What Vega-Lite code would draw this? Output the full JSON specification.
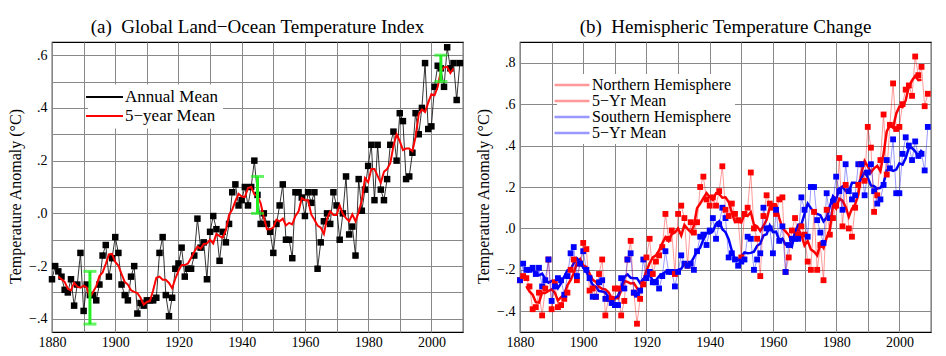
{
  "$schema": "https://vega.github.io/schema/vega-lite/v6.json",
  "autosize": {"type": "pad"},
  "padding": {"left": 7, "top": 17, "right": 5, "bottom": 5},
  "background": "white",
  "config": {
    "font": "Liberation Serif",
    "view": {"stroke": "#000", "strokeWidth": 1.2},
    "axis": {"labelFont": "Liberation Serif", "titleFont": "Liberation Serif", "labelColor": "#000", "titleColor": "#000", "grid": true, "gridColor": "#888", "gridWidth": 1, "gridOpacity": 1, "ticks": false, "domain": false, "labelFontSize": 14, "titleFontSize": 16, "titleFontWeight": "normal", "labelOverlap": false},
    "title": {"font": "Liberation Serif", "fontSize": 19, "fontWeight": "normal", "color": "#000", "offset": 5},
    "legend": {"labelFont": "Liberation Serif", "labelColor": "#000", "labelLimit": 300}
  },
  "datasets": {
    "ann": [
      {"y":1880,"g":-0.25,"n":-0.25,"s":-0.25},{"y":1881,"g":-0.2,"n":-0.23,"s":-0.17},{"y":1882,"g":-0.22,"n":-0.24,"s":-0.2},{"y":1883,"g":-0.24,"n":-0.28,"s":-0.2},{"y":1884,"g":-0.29,"n":-0.39,"s":-0.19},{"y":1885,"g":-0.3,"n":-0.38,"s":-0.22},{"y":1886,"g":-0.25,"n":-0.31,"s":-0.19},{"y":1887,"g":-0.35,"n":-0.42,"s":-0.28},{"y":1888,"g":-0.27,"n":-0.29,"s":-0.25},{"y":1889,"g":-0.15,"n":-0.15,"s":-0.15},
      {"y":1890,"g":-0.37,"n":-0.39,"s":-0.35},{"y":1891,"g":-0.27,"n":-0.26,"s":-0.28},{"y":1892,"g":-0.31,"n":-0.38,"s":-0.24},{"y":1893,"g":-0.31,"n":-0.37,"s":-0.25},{"y":1894,"g":-0.33,"n":-0.34,"s":-0.32},{"y":1895,"g":-0.27,"n":-0.31,"s":-0.23},{"y":1896,"g":-0.16,"n":-0.2,"s":-0.12},{"y":1897,"g":-0.12,"n":-0.15,"s":-0.09},{"y":1898,"g":-0.24,"n":-0.25,"s":-0.23},{"y":1899,"g":-0.17,"n":-0.17,"s":-0.17},
      {"y":1900,"g":-0.09,"n":-0.07,"s":-0.11},{"y":1901,"g":-0.15,"n":-0.1,"s":-0.2},{"y":1902,"g":-0.27,"n":-0.3,"s":-0.24},{"y":1903,"g":-0.31,"n":-0.29,"s":-0.33},{"y":1904,"g":-0.33,"n":-0.33,"s":-0.33},{"y":1905,"g":-0.24,"n":-0.22,"s":-0.26},{"y":1906,"g":-0.2,"n":-0.15,"s":-0.25},{"y":1907,"g":-0.38,"n":-0.42,"s":-0.34},{"y":1908,"g":-0.34,"n":-0.34,"s":-0.34},{"y":1909,"g":-0.35,"n":-0.34,"s":-0.36},
      {"y":1910,"g":-0.33,"n":-0.29,"s":-0.37},{"y":1911,"g":-0.33,"n":-0.29,"s":-0.37},{"y":1912,"g":-0.33,"n":-0.42,"s":-0.24},{"y":1913,"g":-0.32,"n":-0.35,"s":-0.29},{"y":1914,"g":-0.15,"n":-0.15,"s":-0.15},{"y":1915,"g":-0.09,"n":-0.06,"s":-0.12},{"y":1916,"g":-0.31,"n":-0.31,"s":-0.31},{"y":1917,"g":-0.39,"n":-0.46,"s":-0.32},{"y":1918,"g":-0.32,"n":-0.34,"s":-0.3},{"y":1919,"g":-0.21,"n":-0.27,"s":-0.15},
      {"y":1920,"g":-0.19,"n":-0.14,"s":-0.24},{"y":1921,"g":-0.13,"n":-0.05,"s":-0.21},{"y":1922,"g":-0.24,"n":-0.22,"s":-0.26},{"y":1923,"g":-0.21,"n":-0.16,"s":-0.26},{"y":1924,"g":-0.21,"n":-0.13,"s":-0.29},{"y":1925,"g":-0.16,"n":-0.09,"s":-0.23},{"y":1926,"g":-0.02,"n":0.07,"s":-0.11},{"y":1927,"g":-0.13,"n":-0.05,"s":-0.21},{"y":1928,"g":-0.11,"n":-0.01,"s":-0.21},{"y":1929,"g":-0.25,"n":-0.22,"s":-0.28},
      {"y":1930,"g":-0.07,"n":0.07,"s":-0.21},{"y":1931,"g":-0.01,"n":0.11,"s":-0.13},{"y":1932,"g":-0.06,"n":0.05,"s":-0.17},{"y":1933,"g":-0.18,"n":-0.18,"s":-0.18},{"y":1934,"g":-0.07,"n":0.03,"s":-0.17},{"y":1935,"g":-0.11,"n":-0.02,"s":-0.2},{"y":1936,"g":-0.04,"n":0.03,"s":-0.11},{"y":1937,"g":0.08,"n":0.2,"s":-0.04},{"y":1938,"g":0.11,"n":0.25,"s":-0.03},{"y":1939,"g":0.03,"n":0.14,"s":-0.08},
      {"y":1940,"g":0.05,"n":0.11,"s":-0.01},{"y":1941,"g":0.1,"n":0.15,"s":0.05},{"y":1942,"g":0.03,"n":0.11,"s":-0.05},{"y":1943,"g":0.1,"n":0.18,"s":0.02},{"y":1944,"g":0.2,"n":0.3,"s":0.1},{"y":1945,"g":0.07,"n":0.09,"s":0.05},{"y":1946,"g":-0.04,"n":0.06,"s":-0.14},{"y":1947,"g":0.0,"n":0.12,"s":-0.12},{"y":1948,"g":-0.04,"n":0.07,"s":-0.15},{"y":1949,"g":-0.07,"n":0.04,"s":-0.18},
      {"y":1950,"g":-0.15,"n":-0.14,"s":-0.16},{"y":1951,"g":-0.04,"n":0.07,"s":-0.15},{"y":1952,"g":0.03,"n":0.1,"s":-0.04},{"y":1953,"g":0.11,"n":0.27,"s":-0.05},{"y":1954,"g":-0.1,"n":0.0,"s":-0.2},{"y":1955,"g":-0.1,"n":-0.05,"s":-0.15},{"y":1956,"g":-0.17,"n":-0.23,"s":-0.12},{"y":1957,"g":0.08,"n":0.06,"s":0.1},{"y":1958,"g":0.08,"n":0.16,"s":0.0},{"y":1959,"g":0.06,"n":0.12,"s":0.0},
      {"y":1960,"g":-0.01,"n":0.1,"s":-0.12},{"y":1961,"g":0.08,"n":0.07,"s":0.09},{"y":1962,"g":0.04,"n":0.14,"s":-0.06},{"y":1963,"g":0.08,"n":0.15,"s":0.01},{"y":1964,"g":-0.21,"n":-0.21,"s":-0.21},{"y":1965,"g":-0.11,"n":-0.14,"s":-0.08},{"y":1966,"g":-0.03,"n":-0.01,"s":-0.05},{"y":1967,"g":0.0,"n":0.05,"s":-0.05},{"y":1968,"g":-0.04,"n":-0.03,"s":-0.05},{"y":1969,"g":0.08,"n":0.01,"s":0.15},
      {"y":1970,"g":0.03,"n":-0.03,"s":0.09},{"y":1971,"g":-0.1,"n":-0.16,"s":-0.04},{"y":1972,"g":0.0,"n":-0.2,"s":0.2},{"y":1973,"g":0.14,"n":0.08,"s":0.2},{"y":1974,"g":-0.08,"n":-0.2,"s":0.04},{"y":1975,"g":-0.05,"n":-0.08,"s":-0.02},{"y":1976,"g":-0.16,"n":-0.25,"s":-0.07},{"y":1977,"g":0.13,"n":0.09,"s":0.17},{"y":1978,"g":0.01,"n":-0.03,"s":0.05},{"y":1979,"g":0.09,"n":0.05,"s":0.13},
      {"y":1980,"g":0.18,"n":0.11,"s":0.25},{"y":1981,"g":0.26,"n":0.34,"s":0.18},{"y":1982,"g":0.05,"n":0.01,"s":0.09},{"y":1983,"g":0.26,"n":0.21,"s":0.31},{"y":1984,"g":0.09,"n":0.0,"s":0.18},{"y":1985,"g":0.05,"n":-0.04,"s":0.14},{"y":1986,"g":0.13,"n":0.1,"s":0.16},{"y":1987,"g":0.26,"n":0.21,"s":0.31},{"y":1988,"g":0.31,"n":0.31,"s":0.31},{"y":1989,"g":0.2,"n":0.23,"s":0.16},
      {"y":1990,"g":0.38,"n":0.49,"s":0.27},{"y":1991,"g":0.35,"n":0.39,"s":0.31},{"y":1992,"g":0.13,"n":0.08,"s":0.18},{"y":1993,"g":0.14,"n":0.16,"s":0.12},{"y":1994,"g":0.23,"n":0.33,"s":0.14},{"y":1995,"g":0.38,"n":0.55,"s":0.21},{"y":1996,"g":0.3,"n":0.26,"s":0.33},{"y":1997,"g":0.4,"n":0.5,"s":0.29},{"y":1998,"g":0.57,"n":0.7,"s":0.43},{"y":1999,"g":0.32,"n":0.48,"s":0.17},
      {"y":2000,"g":0.33,"n":0.49,"s":0.17},{"y":2001,"g":0.48,"n":0.6,"s":0.36},{"y":2002,"g":0.56,"n":0.67,"s":0.44},{"y":2003,"g":0.55,"n":0.69,"s":0.4},{"y":2004,"g":0.48,"n":0.64,"s":0.33},{"y":2005,"g":0.63,"n":0.83,"s":0.42},{"y":2006,"g":0.55,"n":0.74,"s":0.35},{"y":2007,"g":0.57,"n":0.78,"s":0.36},{"y":2008,"g":0.43,"n":0.59,"s":0.28},{"y":2009,"g":0.57,"n":0.65,"s":0.49}
    ],
    "m5": [
      {"y":1882,"g5":-0.24,"n5":-0.278,"s5":-0.202},{"y":1883,"g5":-0.25,"n5":-0.304,"s5":-0.196},{"y":1884,"g5":-0.26,"n5":-0.32,"s5":-0.2},{"y":1885,"g5":-0.286,"n5":-0.356,"s5":-0.216},{"y":1886,"g5":-0.292,"n5":-0.358,"s5":-0.226},{"y":1887,"g5":-0.264,"n5":-0.31,"s5":-0.218},{"y":1888,"g5":-0.278,"n5":-0.312,"s5":-0.244},{"y":1889,"g5":-0.282,"n5":-0.302,"s5":-0.262},
      {"y":1890,"g5":-0.274,"n5":-0.294,"s5":-0.254},{"y":1891,"g5":-0.282,"n5":-0.31,"s5":-0.254},{"y":1892,"g5":-0.318,"n5":-0.348,"s5":-0.288},{"y":1893,"g5":-0.298,"n5":-0.332,"s5":-0.264},{"y":1894,"g5":-0.276,"n5":-0.32,"s5":-0.232},{"y":1895,"g5":-0.238,"n5":-0.274,"s5":-0.202},{"y":1896,"g5":-0.224,"n5":-0.25,"s5":-0.198},{"y":1897,"g5":-0.192,"n5":-0.216,"s5":-0.168},{"y":1898,"g5":-0.156,"n5":-0.168,"s5":-0.144},{"y":1899,"g5":-0.154,"n5":-0.148,"s5":-0.16},
      {"y":1900,"g5":-0.184,"n5":-0.178,"s5":-0.19},{"y":1901,"g5":-0.198,"n5":-0.186,"s5":-0.21},{"y":1902,"g5":-0.23,"n5":-0.218,"s5":-0.242},{"y":1903,"g5":-0.26,"n5":-0.248,"s5":-0.272},{"y":1904,"g5":-0.27,"n5":-0.258,"s5":-0.282},{"y":1905,"g5":-0.292,"n5":-0.282,"s5":-0.302},{"y":1906,"g5":-0.298,"n5":-0.292,"s5":-0.304},{"y":1907,"g5":-0.302,"n5":-0.294,"s5":-0.31},{"y":1908,"g5":-0.32,"n5":-0.308,"s5":-0.332},{"y":1909,"g5":-0.346,"n5":-0.336,"s5":-0.356},
      {"y":1910,"g5":-0.336,"n5":-0.336,"s5":-0.336},{"y":1911,"g5":-0.332,"n5":-0.338,"s5":-0.326},{"y":1912,"g5":-0.292,"n5":-0.3,"s5":-0.284},{"y":1913,"g5":-0.244,"n5":-0.254,"s5":-0.234},{"y":1914,"g5":-0.24,"n5":-0.258,"s5":-0.222},{"y":1915,"g5":-0.252,"n5":-0.266,"s5":-0.238},{"y":1916,"g5":-0.252,"n5":-0.264,"s5":-0.24},{"y":1917,"g5":-0.264,"n5":-0.288,"s5":-0.24},{"y":1918,"g5":-0.284,"n5":-0.304,"s5":-0.264},{"y":1919,"g5":-0.248,"n5":-0.252,"s5":-0.244},
      {"y":1920,"g5":-0.218,"n5":-0.204,"s5":-0.232},{"y":1921,"g5":-0.196,"n5":-0.168,"s5":-0.224},{"y":1922,"g5":-0.196,"n5":-0.14,"s5":-0.252},{"y":1923,"g5":-0.19,"n5":-0.13,"s5":-0.25},{"y":1924,"g5":-0.168,"n5":-0.106,"s5":-0.23},{"y":1925,"g5":-0.146,"n5":-0.072,"s5":-0.22},{"y":1926,"g5":-0.126,"n5":-0.042,"s5":-0.21},{"y":1927,"g5":-0.134,"n5":-0.06,"s5":-0.208},{"y":1928,"g5":-0.116,"n5":-0.028,"s5":-0.204},{"y":1929,"g5":-0.114,"n5":-0.02,"s5":-0.208},
      {"y":1930,"g5":-0.1,"n5":0.0,"s5":-0.2},{"y":1931,"g5":-0.114,"n5":-0.034,"s5":-0.194},{"y":1932,"g5":-0.078,"n5":0.016,"s5":-0.172},{"y":1933,"g5":-0.086,"n5":-0.002,"s5":-0.17},{"y":1934,"g5":-0.092,"n5":-0.018,"s5":-0.166},{"y":1935,"g5":-0.064,"n5":0.012,"s5":-0.14},{"y":1936,"g5":-0.006,"n5":0.098,"s5":-0.11},{"y":1937,"g5":0.014,"n5":0.12,"s5":-0.092},{"y":1938,"g5":0.046,"n5":0.146,"s5":-0.054},{"y":1939,"g5":0.074,"n5":0.17,"s5":-0.022},
      {"y":1940,"g5":0.064,"n5":0.152,"s5":-0.024},{"y":1941,"g5":0.062,"n5":0.138,"s5":-0.014},{"y":1942,"g5":0.096,"n5":0.17,"s5":0.022},{"y":1943,"g5":0.1,"n5":0.166,"s5":0.034},{"y":1944,"g5":0.072,"n5":0.148,"s5":-0.004},{"y":1945,"g5":0.066,"n5":0.15,"s5":-0.018},{"y":1946,"g5":0.038,"n5":0.128,"s5":-0.052},{"y":1947,"g5":-0.016,"n5":0.076,"s5":-0.108},{"y":1948,"g5":-0.06,"n5":0.03,"s5":-0.15},{"y":1949,"g5":-0.06,"n5":0.032,"s5":-0.152},
      {"y":1950,"g5":-0.054,"n5":0.028,"s5":-0.136},{"y":1951,"g5":-0.024,"n5":0.068,"s5":-0.116},{"y":1952,"g5":-0.03,"n5":0.06,"s5":-0.12},{"y":1953,"g5":-0.02,"n5":0.078,"s5":-0.118},{"y":1954,"g5":-0.046,"n5":0.018,"s5":-0.112},{"y":1955,"g5":-0.036,"n5":0.01,"s5":-0.084},{"y":1956,"g5":-0.042,"n5":-0.012,"s5":-0.074},{"y":1957,"g5":-0.01,"n5":0.012,"s5":-0.034},{"y":1958,"g5":0.008,"n5":0.042,"s5":-0.028},{"y":1959,"g5":0.058,"n5":0.102,"s5":0.014},
      {"y":1960,"g5":0.05,"n5":0.118,"s5":-0.018},{"y":1961,"g5":0.05,"n5":0.116,"s5":-0.016},{"y":1962,"g5":-0.004,"n5":0.05,"s5":-0.058},{"y":1963,"g5":-0.024,"n5":0.002,"s5":-0.05},{"y":1964,"g5":-0.046,"n5":-0.014,"s5":-0.078},{"y":1965,"g5":-0.054,"n5":-0.032,"s5":-0.076},{"y":1966,"g5":-0.078,"n5":-0.068,"s5":-0.088},{"y":1967,"g5":-0.02,"n5":-0.024,"s5":-0.016},{"y":1968,"g5":0.008,"n5":-0.002,"s5":0.018},{"y":1969,"g5":-0.006,"n5":-0.032,"s5":0.02},
      {"y":1970,"g5":-0.006,"n5":-0.082,"s5":0.07},{"y":1971,"g5":0.03,"n5":-0.06,"s5":0.12},{"y":1972,"g5":-0.002,"n5":-0.102,"s5":0.098},{"y":1973,"g5":-0.018,"n5":-0.112,"s5":0.076},{"y":1974,"g5":-0.03,"n5":-0.13,"s5":0.07},{"y":1975,"g5":-0.004,"n5":-0.072,"s5":0.064},{"y":1976,"g5":-0.03,"n5":-0.094,"s5":0.034},{"y":1977,"g5":0.004,"n5":-0.044,"s5":0.052},{"y":1978,"g5":0.05,"n5":-0.006,"s5":0.106},{"y":1979,"g5":0.134,"n5":0.112,"s5":0.156},
      {"y":1980,"g5":0.118,"n5":0.096,"s5":0.14},{"y":1981,"g5":0.168,"n5":0.144,"s5":0.192},{"y":1982,"g5":0.168,"n5":0.134,"s5":0.202},{"y":1983,"g5":0.142,"n5":0.104,"s5":0.18},{"y":1984,"g5":0.116,"n5":0.056,"s5":0.176},{"y":1985,"g5":0.158,"n5":0.096,"s5":0.22},{"y":1986,"g5":0.168,"n5":0.116,"s5":0.22},{"y":1987,"g5":0.19,"n5":0.162,"s5":0.216},{"y":1988,"g5":0.256,"n5":0.268,"s5":0.242},{"y":1989,"g5":0.3,"n5":0.326,"s5":0.272},
      {"y":1990,"g5":0.274,"n5":0.3,"s5":0.246},{"y":1991,"g5":0.24,"n5":0.27,"s5":0.208},{"y":1992,"g5":0.246,"n5":0.29,"s5":0.204},{"y":1993,"g5":0.246,"n5":0.302,"s5":0.192},{"y":1994,"g5":0.236,"n5":0.276,"s5":0.196},{"y":1995,"g5":0.29,"n5":0.36,"s5":0.218},{"y":1996,"g5":0.376,"n5":0.468,"s5":0.28},{"y":1997,"g5":0.394,"n5":0.498,"s5":0.286},{"y":1998,"g5":0.384,"n5":0.486,"s5":0.278},{"y":1999,"g5":0.42,"n5":0.554,"s5":0.284},
      {"y":2000,"g5":0.452,"n5":0.588,"s5":0.314},{"y":2001,"g5":0.448,"n5":0.586,"s5":0.308},{"y":2002,"g5":0.48,"n5":0.618,"s5":0.34},{"y":2003,"g5":0.54,"n5":0.686,"s5":0.39},{"y":2004,"g5":0.554,"n5":0.714,"s5":0.388},{"y":2005,"g5":0.556,"n5":0.736,"s5":0.372},{"y":2006,"g5":0.532,"n5":0.716,"s5":0.348},{"y":2007,"g5":0.55,"n5":0.718,"s5":0.38}
    ],
    "err": [
      {"y":1892,"v":-0.42,"hi":-0.22},
      {"y":1945,"v":0.0,"hi":0.14},
      {"y":2003,"v":0.5,"hi":0.6}
    ]
  },
  "hconcat": [
    {
      "width": 411,
      "height": 290,
      "title": {"text": "(a)\u00a0 Global Land\u2212Ocean Temperature Index"},
      "encoding": {
        "x": {"field": "y", "type": "quantitative", "scale": {"domain": [1880, 2010], "nice": false, "zero": false},
              "axis": {"title": null, "values": [1880,1890,1900,1910,1920,1930,1940,1950,1960,1970,1980,1990,2000,2010], "format": "d", "labelExpr": "datum.value % 20 === 0 ? datum.label : ''", "labelFlush": false, "labelPadding": 3}},
        "y": {"field": "v", "type": "quantitative", "scale": {"domain": [-0.45, 0.65], "nice": false, "zero": false},
              "axis": {"title": "Temperature Anomaly (\u00b0C)", "titlePadding": 5, "titleY": 154, "labelPadding": 5, "values": [-0.4,-0.3,-0.2,-0.1,0,0.1,0.2,0.3,0.4,0.5,0.6], "labelExpr": "abs(round(datum.value*10)) % 2 === 0 ? replace(format(datum.value, '.1f'), '0.', '.') : ''"}}
      },
      "layer": [
        {
          "data": {"name": "ann"},
          "transform": [{"fold": ["g"], "as": ["k", "v"]}],
          "mark": {"type": "line", "strokeWidth": 0.8, "opacity": 1},
          "encoding": {"color": {"field": "k", "type": "nominal", "scale": {"domain": ["g", "g5"], "range": ["#000000", "#ff0000"]}}}
        },
        {
          "data": {"name": "ann"},
          "transform": [{"fold": ["g"], "as": ["k", "v"]}],
          "mark": {"type": "point", "shape": "square", "filled": true, "size": 42, "opacity": 1},
          "encoding": {"color": {"field": "k", "type": "nominal", "scale": {"domain": ["g", "g5"], "range": ["#000000", "#ff0000"]},
            "legend": {"orient": "none", "legendX": 36, "legendY": 42.5, "title": null, "direction": "vertical", "symbolSize": 64, "symbolType": "M-4.625,0H4.625", "symbolOffset": 4, "labelOffset": 12, "labelFontSize": 17, "rowPadding": 1, "padding": 4, "fillColor": "white", "symbolStrokeWidth": 2,
              "labelExpr": "datum.value === 'g' ? 'Annual Mean' : '5\u2212year Mean'"}}}
        },
        {
          "data": {"name": "m5"},
          "transform": [{"fold": ["g5"], "as": ["k", "v"]}],
          "mark": {"type": "line", "strokeWidth": 2},
          "encoding": {"color": {"field": "k", "type": "nominal", "scale": {"domain": ["g", "g5"], "range": ["#000000", "#ff0000"]}}}
        },
        {
          "data": {"name": "err"},
          "mark": {"type": "rule", "color": "#22ee22", "strokeWidth": 3},
          "encoding": {"y2": {"field": "hi"}}
        },
        {
          "data": {"name": "err"},
          "mark": {"type": "tick", "orient": "horizontal", "color": "#22ee22", "thickness": 3, "size": 13},
          "encoding": {}
        },
        {
          "data": {"name": "err"},
          "mark": {"type": "tick", "orient": "horizontal", "color": "#22ee22", "thickness": 3, "size": 13},
          "encoding": {"y": {"field": "hi", "type": "quantitative"}}
        }
      ]
    },
    {
      "width": 411,
      "height": 290,
      "title": {"text": "(b)\u00a0 Hemispheric Temperature Change"},
      "encoding": {
        "x": {"field": "y", "type": "quantitative", "scale": {"domain": [1880, 2010], "nice": false, "zero": false},
              "axis": {"title": null, "values": [1880,1890,1900,1910,1920,1930,1940,1950,1960,1970,1980,1990,2000,2010], "format": "d", "labelExpr": "datum.value % 20 === 0 ? datum.label : ''", "labelFlush": false, "labelPadding": 3}},
        "y": {"field": "v", "type": "quantitative", "scale": {"domain": [-0.5, 0.9], "nice": false, "zero": false},
              "axis": {"title": "Temperature Anomaly (\u00b0C)", "titlePadding": 5, "titleY": 154, "labelPadding": 5, "values": [-0.4,-0.2,0,0.2,0.4,0.6,0.8], "labelExpr": "replace(format(datum.value, '.1f'), '0.', '.')"}}
      },
      "layer": [
        {
          "data": {"name": "m5"},
          "transform": [{"fold": ["n5", "s5"], "as": ["k", "v"]}],
          "mark": {"type": "line", "strokeWidth": 2.5},
          "encoding": {"color": {"field": "k", "type": "nominal", "scale": {"domain": ["n", "n5", "s", "s5"], "range": ["#ff0000", "#ff0000", "#0000ff", "#0000ff"]}}}
        },
        {
          "data": {"name": "ann"},
          "transform": [{"fold": ["n", "s"], "as": ["k", "v"]}],
          "mark": {"type": "line", "strokeWidth": 1, "opacity": 0.4},
          "encoding": {"color": {"field": "k", "type": "nominal", "scale": {"domain": ["n", "n5", "s", "s5"], "range": ["#ff0000", "#ff0000", "#0000ff", "#0000ff"]}}}
        },
        {
          "data": {"name": "ann"},
          "transform": [{"fold": ["n", "s"], "as": ["k", "v"]}],
          "mark": {"type": "point", "shape": "square", "filled": true, "size": 34, "opacity": 1},
          "encoding": {"color": {"field": "k", "type": "nominal", "scale": {"domain": ["n", "n5", "s", "s5"], "range": ["#ff0000", "#ff0000", "#0000ff", "#0000ff"]},
            "legend": {"orient": "none", "legendX": 37, "legendY": 32, "title": null, "direction": "vertical", "symbolSize": 64, "symbolType": "M-4.375,0H4.375", "symbolOffset": 4, "labelOffset": 12, "labelFontSize": 16, "rowPadding": -0.5, "padding": 3, "fillColor": "white", "symbolStrokeWidth": 2.5,
              "labelExpr": "datum.value === 'n' ? 'Northern Hemisphere' : datum.value === 's' ? 'Southern Hemisphere' : '5\u2212Yr Mean'"}}}
        }
      ]
    }
  ],
  "spacing": 57,
  "bounds": "flush",
  "resolve": {"scale": {"color": "independent", "x": "independent", "y": "independent"}, "legend": {"color": "independent"}}
}
